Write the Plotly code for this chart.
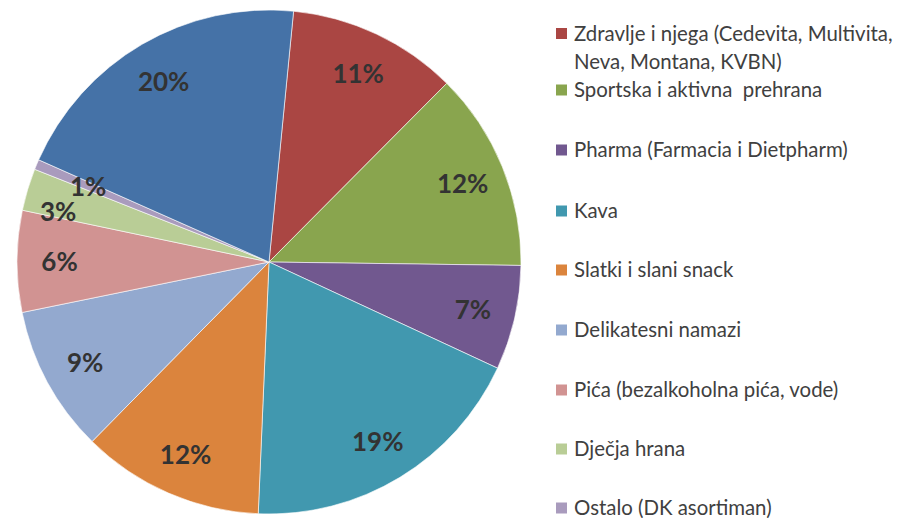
import numpy as np
import plotly.graph_objects as go

# Udjel kategorija (%), redom u smjeru kazaljke od vrha
categories = [
    "Zdravlje i njega (Cedevita, Multivita,<br>Neva, Montana, KVBN)",
    "Sportska i aktivna  prehrana",
    "Pharma (Farmacia i Dietpharm)",
    "Kava",
    "Slatki i slani snack",
    "Delikatesni namazi",
    "Pića (bezalkoholna pića, vode)",
    "Dječja hrana",
    "Ostalo (DK asortiman)",
    "Ostalo",
]
shares = [10.9, 12.75, 6.7, 18.75, 11.7, 9.4, 6.5, 2.7, 0.65, 19.9]
share_labels = ["11%", "12%", "7%", "19%", "12%", "9%", "6%", "3%", "1%", "20%"]
colors = ["#AA4643", "#89A54E", "#71588F", "#4198AF", "#DB843D",
          "#93A9CF", "#D19392", "#B9CD96", "#A99BBD", "#4572A7"]

# the page body has an 8px margin, so the figure is drawn 8px smaller
W, H, OFF = 897, 510, 8
ROT = 5.6
CX, CY, R = 269, 262, 252
label_font = dict(family="Lato", size=26, color="#333333", weight="bold")

# thin slices: label placed by hand (radius factor, angle nudge in degrees)
small_label_pos = {7: (0.86, -3.0), 8: (0.78, 0.0)}


def px(x):
    return (x - OFF) / W


def py(y):
    return 1 - (y - OFF) / H


pie_domain = dict(x=[px(CX - R), px(CX + R)], y=[py(CY + R), py(CY - R)])

fig = go.Figure()

# coloured slices
fig.add_trace(go.Pie(
    labels=categories,
    values=shares,
    textinfo="none",
    marker=dict(colors=colors, line=dict(color="white", width=0.6)),
    sort=False,
    direction="clockwise",
    rotation=ROT,
    showlegend=False,
    domain=pie_domain,
    hoverinfo="label+percent",
))

ring_text = ["" if i in small_label_pos else t for i, t in enumerate(share_labels)]

# transparent ring on top, only to push the labels out towards the rim
fig.add_trace(go.Pie(
    labels=categories,
    values=shares,
    text=ring_text,
    texttemplate="%{text}",
    textposition="inside",
    insidetextorientation="horizontal",
    textfont=label_font,
    marker=dict(colors=["rgba(0,0,0,0)"] * len(shares), line=dict(width=0)),
    hole=0.66,
    sort=False,
    direction="clockwise",
    rotation=ROT,
    showlegend=False,
    domain=pie_domain,
    hoverinfo="skip",
))

total = sum(shares)
ends = np.cumsum(shares) / total * 360
mids = ends - np.array(shares) / total * 180 + ROT
for i, (rf, nudge) in small_label_pos.items():
    a = np.radians(mids[i] + nudge)
    r = rf * R
    fig.add_annotation(
        x=px(CX + r * np.sin(a)), y=py(CY - r * np.cos(a)),
        xref="paper", yref="paper", text=share_labels[i], showarrow=False,
        xanchor="center", yanchor="middle", font=label_font,
    )

# Legenda (prva, plava stavka je izvan slike)
legend_y = [33.5, 90, 150, 211, 270, 330, 390, 449, 508]
for i, y in enumerate(legend_y):
    fig.add_shape(
        type="rect", xref="paper", yref="paper",
        x0=px(556), x1=px(567),
        y0=py(y + 5.5), y1=py(y - 5.5),
        fillcolor=colors[i], line=dict(width=0),
    )
    for j, line in enumerate(categories[i].split("<br>")):
        fig.add_annotation(
            x=px(572), y=py(y - 1 + 29 * j), xref="paper", yref="paper",
            text=line, showarrow=False,
            xanchor="left", yanchor="middle", align="left",
            font=dict(family="Lato", size=20.4, color="#404040"),
        )

fig.update_layout(
    width=W, height=H,
    margin=dict(l=0, r=0, t=0, b=0),
    paper_bgcolor="white",
    plot_bgcolor="white",
    uniformtext=dict(minsize=26, mode="show"),
)

fig.write_html("out.html")
